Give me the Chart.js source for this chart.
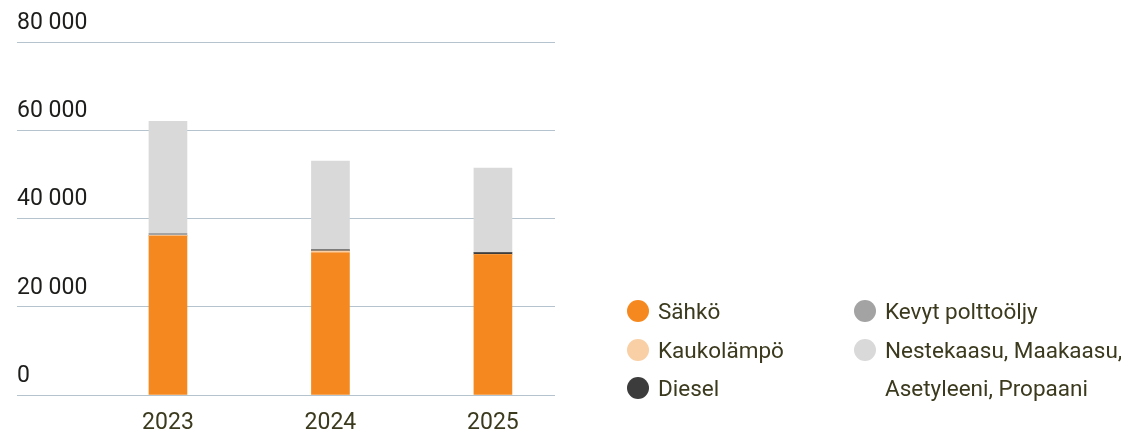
<!DOCTYPE html>
<html lang="fi">
<head>
<meta charset="utf-8">
<script src="https://cdn.jsdelivr.net/npm/chart.js@4"></script>
<style>
  body { margin: 0; background: #fff; }
  #wrap { position: relative; width: 1121px; height: 435px; }
  #legend {
    position: absolute; left: 627px; top: 292px;
    font-family: Roboto, sans-serif; font-size: 22.5px; color: #3b3a1e;
  }
  .col { position: absolute; top: 0; display: flex; flex-direction: column; }
  .item { display: flex; align-items: flex-start; line-height: 38.5px; white-space: nowrap; }
  .dot { width: 22px; height: 22px; border-radius: 50%; margin: 8px 9px 0 0; flex: none; }
</style>
</head>
<body>
<div id="wrap">
  <canvas id="energyChart" width="1121" height="435"></canvas>
  <div id="legend"></div>
</div>
<script>
const years = [2023, 2024, 2025];
const seriesNames = ['Sähkö', 'Kaukolämpö', 'Diesel', 'Kevyt polttoöljy', 'Nestekaasu, Maakaasu, Asetyleeni, Propaani'];
const sahko = [36000, 32200, 31800];
const kaukolampo = [200, 450, 100];
const diesel = [0, 250, 350];
const kevytPolttooljy = [450, 0, 0];
const nestekaasu = [25350, 20100, 19150];
const yTicks = [0, 20000, 40000, 60000, 80000];
const colors = ['#f5891f', '#f9cfa5', '#3c3c3c', '#a3a3a3', '#d9d9d9'];

const seriesData = [sahko, kaukolampo, diesel, kevytPolttooljy, nestekaasu];

const ctx = document.getElementById('energyChart').getContext('2d');

const chart = new Chart(ctx, {
    type: 'bar',
    data: {
        labels: years,
        datasets: seriesNames.map((name, i) => ({
            label: name,
            data: seriesData[i],
            backgroundColor: colors[i],
            borderWidth: 0,
            barThickness: 38
        }))
    },
    options: {
        responsive: false,
        animation: false,
        devicePixelRatio: 1,
        layout: { padding: { left: 17, right: 566, top: 42, bottom: 0 } },
        plugins: {
            legend: { display: false },
            tooltip: { enabled: false }
        },
        scales: {
            x: {
                type: 'linear',
                stacked: true,
                offset: false,
                min: 2022.071,
                max: 2025.382,
                afterBuildTicks: scale => { scale.ticks = years.map(v => ({ value: v })); },
                afterFit: scale => { scale.height = 40; },
                grid: { display: false, drawTicks: false },
                border: { display: false },
                ticks: {
                    padding: 14,
                    maxRotation: 0,
                    color: '#3b3a1e',
                    font: { family: 'Roboto', size: 23 },
                    callback: v => String(v)
                }
            },
            y: {
                stacked: true,
                min: 0,
                max: 80000,
                afterBuildTicks: scale => { scale.ticks = yTicks.map(v => ({ value: v })); },
                grid: { color: '#b5c3cf', lineWidth: 1, drawTicks: false },
                border: { display: false },
                ticks: {
                    mirror: true,
                    padding: 0,
                    labelOffset: -19,
                    color: '#1d1d1b',
                    font: { family: 'Roboto', size: 23 },
                    callback: v => String(v).replace(/\B(?=(\d{3})+(?!\d))/g, ' ')
                }
            }
        }
    }
});

// Legenda kahteen sarakkeeseen
const legend = document.getElementById('legend');
const cols = [document.createElement('div'), document.createElement('div')];
cols.forEach((c, i) => { c.className = 'col'; c.style.left = (i * 227) + 'px'; legend.appendChild(c); });
chart.data.datasets.forEach((ds, i) => {
    const item = document.createElement('div');
    item.className = 'item';
    const dot = document.createElement('span');
    dot.className = 'dot';
    dot.style.background = ds.backgroundColor;
    const text = document.createElement('span');
    text.innerHTML = ds.label.replace('Maakaasu, ', 'Maakaasu,<br>');
    item.appendChild(dot);
    item.appendChild(text);
    cols[i < 3 ? 0 : 1].appendChild(item);
});
</script>
</body>
</html>
